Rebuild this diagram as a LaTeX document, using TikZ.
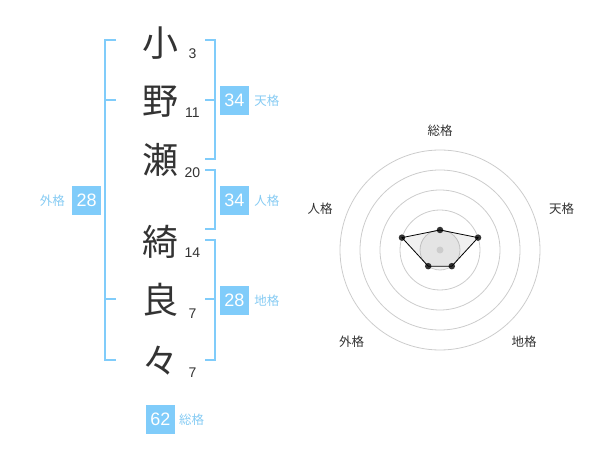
\documentclass[tikz,border=0pt]{standalone}
\usepackage{fontspec}
\usetikzlibrary{positioning}
\setmainfont{Liberation Sans}
\newfontfamily\jp{Noto Sans CJK JP}
\definecolor{br}{HTML}{80CCFA}
\definecolor{lbl}{HTML}{86CBF3}
\definecolor{ink}{HTML}{333333}
\definecolor{ring}{HTML}{CCCCCC}
\tikzset{
  kanji/.style={font=\jp\fontsize{36}{36}\selectfont, text=ink, inner sep=0pt},
  strokes/.style={font=\fontsize{14}{14}\selectfont, text=ink, inner sep=0pt},
  numbox/.style={fill=br, text=white, minimum width=29pt, minimum height=29pt, inner sep=0pt, font=\fontsize{18}{18}\selectfont},
  lab/.style={font=\jp\fontsize{12.5}{12.5}\selectfont, text=lbl, inner sep=0pt},
  bracket/.style={draw=br, line width=2pt},
  rlab/.style={font=\jp\fontsize{12.5}{12.5}\selectfont, text=ink, inner sep=0pt},
  ringc/.style={draw=ring, line width=0.8pt},
  dotn/.style={circle, fill=ink, minimum size=6.5pt, inner sep=0pt},
}
\begin{document}
\begin{tikzpicture}[x=1pt,y=-1pt]
\useasboundingbox (0,0) rectangle (600,470);
% kanji
\node[kanji] (k1) at (160,43.5) {小};
\node[kanji] (k2) at (160,101.5) {野};
\node[kanji] (k3) at (160,160) {瀬};
\node[kanji] (k4) at (160,241.5) {綺};
\node[kanji] (k5) at (160,300) {良};
\node[kanji] (k6) at (160,361) {々};
% stroke counts
\node[strokes] (s1) at (192.5,53.3) {3};
\node[strokes] (s2) at (192.5,112.7) {11};
\node[strokes] (s3) at (192.5,172.7) {20};
\node[strokes] (s4) at (192.5,252.7) {14};
\node[strokes] (s5) at (192.5,313.3) {7};
\node[strokes] (s6) at (192.5,372.7) {7};
% brackets
\draw[bracket] (116,40) -- (105,40) -- (105,360) -- (116,360);
\draw[bracket] (105,100) -- (116,100);
\draw[bracket] (105,299.5) -- (116,299.5);
\draw[bracket] (205,40) -- (214.5,40) -- (214.5,159.5) -- (205,159.5);
\draw[bracket] (205,100) -- (214.5,100);
\draw[bracket] (205,170) -- (214.5,170) -- (214.5,229.5) -- (205,229.5);
\draw[bracket] (205,240) -- (214.5,240) -- (214.5,360) -- (205,360);
\draw[bracket] (205,299.5) -- (214.5,299.5);
% boxes and labels
\node[numbox] (ten) at (234.5,100.3) {34};
\node[lab, right=5pt of ten] (tenl) {天格};
\node[numbox] (jin) at (234.5,200.3) {34};
\node[lab, right=5pt of jin] (jinl) {人格};
\node[numbox] (chi) at (234.5,300.3) {28};
\node[lab, right=5pt of chi] (chil) {地格};
\node[numbox] (gai) at (86.7,200.3) {28};
\node[lab, left=7pt of gai] (gail) {外格};
\node[numbox] (sou) at (160.3,419.5) {62};
\node[lab, right=4pt of sou] (soul) {総格};
% radar
\begin{scope}[shift={(440,250)}, y=1pt]
  \fill[black, opacity=0.05] (0,0) circle (20);
  \foreach \r in {20,40,60,80,100} \draw[ringc] (0,0) circle (\r);
  \node[dotn] (p1) at (90:20) {};
  \node[dotn] (p2) at (18:40) {};
  \node[dotn] (p3) at (-54:20) {};
  \node[dotn] (p4) at (-126:20) {};
  \node[dotn] (p5) at (162:40) {};
  \fill[black, opacity=0.06] (p1.center) -- (p2.center) -- (p3.center) -- (p4.center) -- (p5.center) -- cycle;
  \draw[black, line width=0.8pt] (p1.center) -- (p2.center) -- (p3.center) -- (p4.center) -- (p5.center) -- cycle;
  \node[circle, fill=ring, minimum size=7pt, inner sep=0pt] (c0) at (0,0) {};
  \node[rlab] (r1) at (0,119.3) {総格};
  \node[rlab] (r2) at (121.7,41) {天格};
  \node[rlab] (r3) at (-120,41) {人格};
  \node[rlab] (r4) at (-88.3,-92) {外格};
  \node[rlab] (r5) at (84,-92) {地格};
\end{scope}
\end{tikzpicture}
\end{document}
